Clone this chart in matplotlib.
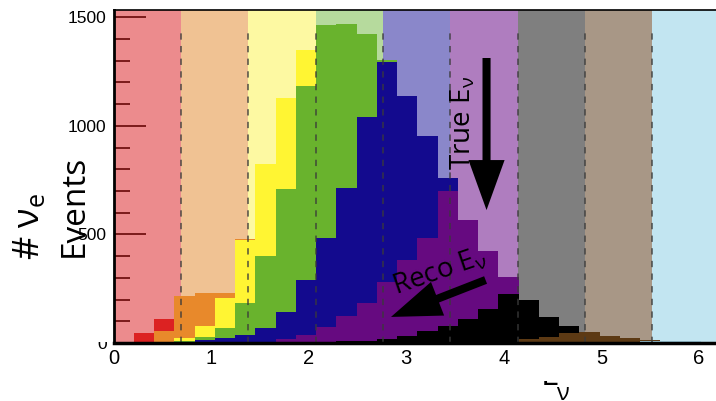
import matplotlib.pyplot as plt
import numpy as np
from matplotlib.ticker import MultipleLocator
from matplotlib.transforms import Bbox

plt.rcParams['mathtext.fontset'] = 'custom'
plt.rcParams['mathtext.rm'] = 'Open Sans'
plt.rcParams['mathtext.it'] = 'Open Sans'

# reconstructed energy binning
bin_width = 0.2075
n_bins = 30
edges = np.arange(n_bins + 1) * bin_width

# true energy slices (GeV), background band for each one
true_edges = [0, 0.69, 1.38, 2.07, 2.76, 3.45, 4.14, 4.83, 5.52, 6.4]
band_colors = ['#ec8b8d', '#f0c293', '#fdf9a2', '#b6da9d', '#8a87ca',
               '#af7dbf', '#7f7f7f', '#a89786', '#c2e5f1']
hist_colors = ['#dc2222', '#e8892b', '#fff533', '#69b32d', '#130a8e',
               '#660a80', '#000000', '#5d3a14', '#a6d6e8']

# events per reco bin, one list per true energy slice
slice0 = [0, 45, 54] + [0] * 27
slice1 = [0, 0, 55, 193, 151, 21, 5] + [0] * 23
slice2 = [0, 0, 0, 16, 50, 141, 287, 424, 417, 166] + [0] * 20
slice3 = [0, 0, 0, 8, 15, 46, 149, 328, 565, 893, 981, 755, 379, 10] + [0] * 16
slice4 = [0, 0, 0, 0, 14, 22, 33, 65, 128, 254, 408, 590, 859, 1012, 755,
          469, 62] + [0] * 13
slice5 = [0, 0, 0, 0, 0, 0, 4, 6, 17, 32, 70, 115, 174, 265, 351, 429, 621,
          457, 265, 79] + [0] * 10
slice6 = [0] * 9 + [5, 5, 7, 9, 18, 32, 55, 78, 111, 157, 219, 180, 92, 34] + [0] * 7
slice7 = [0] * 19 + [5, 18, 29, 45, 52, 27, 17, 9, 2, 0, 0]
slice8 = [0] * 24 + [5, 5, 7, 7, 7, 5]

slices = [slice0, slice1, slice2, slice3, slice4, slice5, slice6, slice7, slice8]

fig = plt.figure(figsize=(7.16, 4.01), dpi=100)
ax = fig.add_axes([113.5 / 716, 58 / 401, 602.5 / 716, 333 / 401])

# coloured bands for the true energy slices
for lo, hi, c in zip(true_edges[:-1], true_edges[1:], band_colors):
    ax.axvspan(lo, hi, color=c, lw=0, zorder=0)

# stacked histogram, highest true energy at the bottom
base = np.zeros(n_bins)
for vals, c in zip(slices[::-1], hist_colors[::-1]):
    top = base + np.array(vals)
    ax.stairs(top, edges, baseline=base, fill=True, color=c, lw=0, zorder=2)
    base = top

ax.vlines(true_edges[1:-1], 0, 1433, colors='#3a3a3a', linestyles=(0, (3.5, 3.5)),
          lw=1.3, alpha=0.75, zorder=3)

ax.set_xlim(0, 6.173)
ax.set_ylim(0, 1533)

ax.set_xticks(range(7))
ax.set_yticks([0, 500, 1000, 1500])
ax.yaxis.set_minor_locator(MultipleLocator(100))
ax.tick_params(axis='x', length=0, pad=4, labelsize=14.5)
ax.tick_params(axis='y', which='major', direction='in', length=23, width=1.4,
               color='#7a1a1a', labelsize=12.5, pad=5)
ax.tick_params(axis='y', which='minor', direction='in', length=11.5, width=1.4,
               color='#7a1a1a')
for lab in ax.get_xticklabels() + ax.get_yticklabels():
    lab.set_family('Liberation Sans')

# the zero on the y axis is cut at the top
zero_lab = ax.yaxis.get_major_ticks()[0].label1
zero_lab.set_clip_box(Bbox([[0, 0], [716, 59.5]]))
zero_lab.set_clip_on(True)

ax.spines['right'].set_visible(False)
ax.spines['top'].set_linewidth(1.2)
ax.spines['left'].set_linewidth(2)
ax.spines['bottom'].set_linewidth(2.5)
for s in ax.spines.values():
    s.set_zorder(4)

# annotations
ax.text(3.581, 1013, 'True E$_\\nu$', rotation=90, ha='center', va='center',
        fontsize=20, family='Open Sans', zorder=5)
ax.annotate('', xy=(3.822, 612), xytext=(3.822, 1312), zorder=5,
            arrowprops=dict(arrowstyle='simple,head_length=36,head_width=26,tail_width=5.8',
                            mutation_scale=1, color='black', lw=0,
                            shrinkA=0, shrinkB=0))
ax.text(3.345, 327, 'Reco E$_\\nu$', rotation=19, ha='center', va='center',
        fontsize=20, family='Open Sans', zorder=5)
ax.annotate('', xy=(2.843, 120), xytext=(3.812, 290), zorder=5,
            arrowprops=dict(arrowstyle='simple,head_length=36,head_width=26,tail_width=5.8',
                            mutation_scale=1, color='black', lw=0,
                            shrinkA=0, shrinkB=0))

# axis titles
fig.text(30 / 716, 1 - 226 / 401, '# $\\nu_\\mathrm{e}$', rotation=90, ha='center',
         va='center', fontsize=26, family='Open Sans')
fig.text(74.5 / 716, 1 - 205.5 / 401, 'Events', rotation=90, ha='center',
         va='center', fontsize=24, family='Open Sans')
xl = fig.text(541 / 716, 16 / 401, 'E', ha='left', va='baseline',
              fontsize=24, family='Open Sans')
xl.set_clip_box(Bbox([[0, 0], [716, 20]]))
xl.set_clip_on(True)
fig.text(556 / 716, 1 / 401, '\u03bd', ha='left', va='baseline',
         fontsize=17, family='Open Sans')

fig.savefig('out.png', dpi=100)
